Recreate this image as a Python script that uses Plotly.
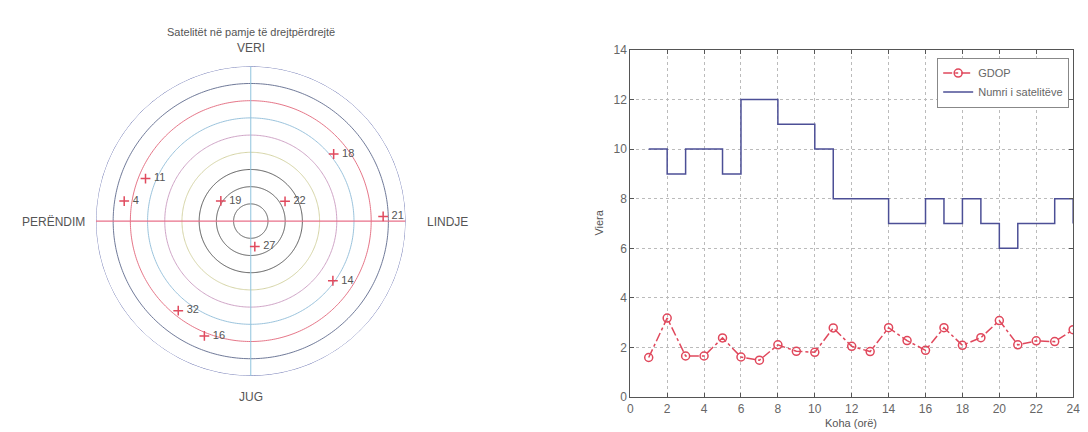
import numpy as np
import plotly.graph_objects as go

# ---------------- data ----------------
# Sky plot (left)
sat_ids = ["18", "11", "4", "19", "22", "21", "27", "14", "32", "16"]
sat_azimuth = [51, 292, 279, 304, 60, 88, 171, 126, 219, 202]          # degrees from north, clockwise
sat_elevation = [28, 24, 15.5, 69, 67, 13, 75, 31, 23, 18]            # degrees
ring_zenith = [90, 80, 70, 60, 50, 40, 30, 20, 10]                    # 90 - elevation
ring_colors = ["#5a64a8", "#5f6a8c", "#e2677a", "#8fbcd8", "#c99ac0",
               "#d0cf9c", "#4a4a4a", "#4a4a4a", "#4a4a4a"]
direction_labels = ["VERI", "JUG", "PERËNDIM", "LINDJE"]
sky_title = "Satelitët në pamje të drejtpërdrejtë"

# Time series (right)
hours = list(range(1, 25))
gdop = [1.60, 3.19, 1.66, 1.66, 2.39, 1.62, 1.49, 2.11, 1.85, 1.81, 2.79, 2.05,
        1.84, 2.80, 2.28, 1.89, 2.80, 2.09, 2.40, 3.09, 2.11, 2.27, 2.24, 2.72]
num_sats = [10, 9, 10, 10, 9, 12, 12, 11, 11, 10, 8, 8, 8, 7, 7, 8, 7, 8, 7, 6, 7, 7, 8, 7]
x_ticks = list(range(0, 25, 2))
y_ticks = list(range(0, 15, 2))

# ---------------- figure ----------------
fig = go.Figure()
FONT = "Liberation Sans, Arial, sans-serif"
TXT = "#555555"

theta_full = np.linspace(0, 360, 361)
for rz, col in zip(ring_zenith, ring_colors):
    fig.add_trace(go.Scatterpolar(r=[rz] * len(theta_full), theta=theta_full, mode="lines",
                                  line=dict(color=col, width=0.9), showlegend=False,
                                  hoverinfo="skip", subplot="polar"))
# cross lines
fig.add_trace(go.Scatterpolar(r=[ring_zenith[0], 0, ring_zenith[0]], theta=[0, 0, 180], mode="lines",
                              line=dict(color="#8fc3dd", width=1), showlegend=False,
                              hoverinfo="skip", subplot="polar"))
fig.add_trace(go.Scatterpolar(r=[ring_zenith[0], 0, ring_zenith[0]], theta=[270, 270, 90], mode="lines",
                              line=dict(color="#e8708a", width=1.2), showlegend=False,
                              hoverinfo="skip", subplot="polar"))
# satellites
fig.add_trace(go.Scatterpolar(r=[90 - e for e in sat_elevation], theta=sat_azimuth,
                              mode="markers+text", text=[" " + s for s in sat_ids],
                              textposition="middle right",
                              textfont=dict(family=FONT, size=11, color="#555555"),
                              marker=dict(symbol="cross-thin", size=7,
                                          line=dict(color="#e04a5e", width=1.5)),
                              showlegend=False, subplot="polar"))

# right panel
fig.add_trace(go.Scatter(x=hours, y=gdop, mode="lines+markers", name="GDOP",
                         line=dict(color="#e0485c", width=1.5, dash="dashdot"),
                         marker=dict(symbol="circle-open", size=8, color="#e0485c",
                                     line=dict(width=1.5)),
                         xaxis="x", yaxis="y"))
fig.add_trace(go.Scatter(x=hours, y=num_sats, mode="lines", name="Numri i satelitëve",
                         line=dict(color="#4c4f96", width=1.5, shape="hv"),
                         xaxis="x", yaxis="y"))

W, H = 1088, 432
cx, cy, R = 242, 213, 160
fig.update_layout(
    width=W, height=H,
    margin=dict(l=0, r=0, t=0, b=0),
    paper_bgcolor="white", plot_bgcolor="white",
    font=dict(family=FONT, size=11, color=TXT),
    polar=dict(
        domain=dict(x=[(cx - R) / W, (cx + R) / W], y=[(H - cy - R) / H, (H - cy + R) / H]),
        bgcolor="rgba(0,0,0,0)",
        radialaxis=dict(range=[0, 90], visible=False),
        angularaxis=dict(visible=False, rotation=90, direction="clockwise"),
    ),
    xaxis=dict(domain=[625 / W, 1072 / W], range=[0, 24], tickvals=x_ticks,
               ticks="inside", ticklen=4, tickcolor="#555", mirror="ticks",
               showline=True, linecolor="#555", linewidth=1,
               showgrid=True, gridcolor="#bbbbbb", griddash="dot", gridwidth=1,
               zeroline=False, tickfont=dict(size=12, color="#666"), anchor="y"),
    yaxis=dict(domain=[(H - 395) / H, (H - 36) / H], range=[0, 14], tickvals=y_ticks,
               ticks="inside", ticklen=4, tickcolor="#555", mirror="ticks",
               showline=True, linecolor="#555", linewidth=1,
               showgrid=True, gridcolor="#bbbbbb", griddash="dot", gridwidth=1,
               zeroline=False, tickfont=dict(size=12, color="#666"), anchor="x"),
    legend=dict(x=1068 / W, y=(H - 44) / H, xanchor="right", yanchor="top",
                bgcolor="white", bordercolor="#888", borderwidth=1,
                font=dict(size=11, color="#666"), tracegroupgap=0),
)

ann = [
    dict(text=sky_title, x=cx / W, y=(H - 18) / H, size=11),
    dict(text=direction_labels[0], x=cx / W, y=(H - 34) / H, size=12),
    dict(text=direction_labels[1], x=cx / W, y=(H - 395) / H, size=12),
    dict(text=direction_labels[2], x=43 / W, y=(H - 214) / H, size=12),
    dict(text=direction_labels[3], x=441 / W, y=(H - 214) / H, size=12),
    dict(text="Koha (orë)", x=848 / W, y=(H - 422) / H, size=11),
]
for a in ann:
    fig.add_annotation(text=a["text"], x=a["x"], y=a["y"], xref="paper", yref="paper",
                       showarrow=False, xanchor="center", yanchor="middle",
                       font=dict(size=a["size"], color=TXT))
fig.add_annotation(text="Viera", x=593 / W, y=(H - 215) / H, xref="paper", yref="paper",
                   showarrow=False, textangle=-90, xanchor="center", yanchor="middle",
                   font=dict(size=11, color=TXT))

fig.write_html("out.html")
